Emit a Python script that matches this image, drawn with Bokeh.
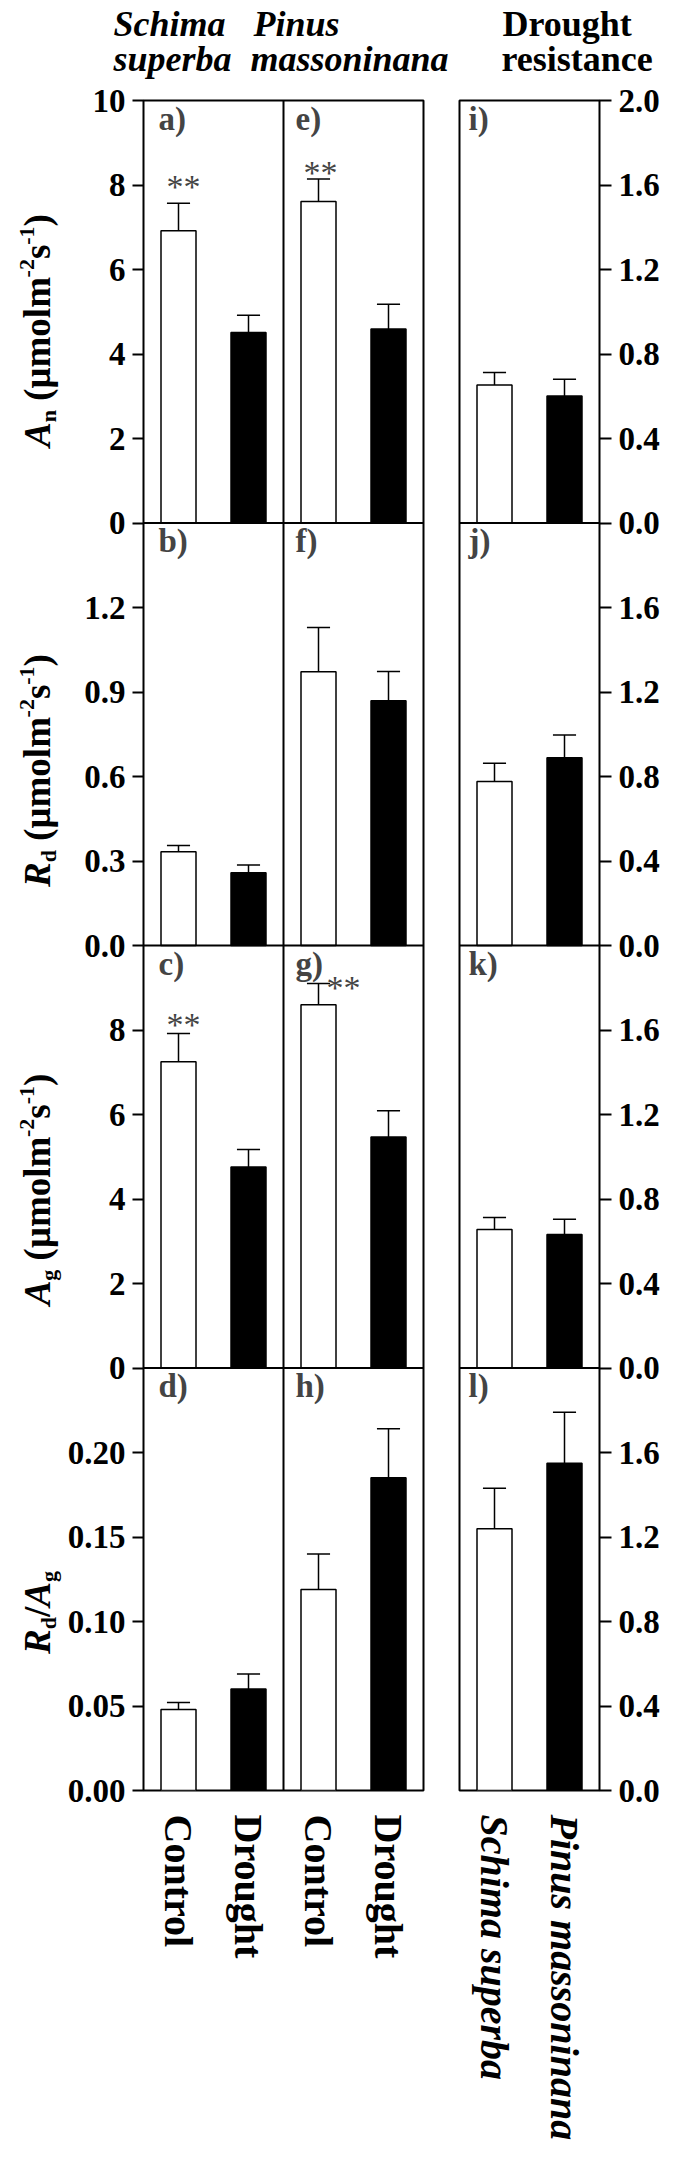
import math
from bokeh.plotting import figure
from bokeh.models import (Range1d, LinearAxis, FixedTicker, Span, Label, ColumnDataSource)
from bokeh.layouts import column, row
from bokeh.embed import file_html
from bokeh.resources import INLINE

FONT = "Liberation Serif"

# ---------------- data ----------------
treatments = ["Control", "Drought", "Control", "Drought"]
species = ["Schima superba", "Pinus massoninana"]
header_words = [["Schima", "superba"], ["Pinus", "massoninana"], ["Drought", "resistance"]]

# order: Schima-Control, Schima-Drought, Pinus-Control, Pinus-Drought
An_mean = [6.92, 4.51, 7.61, 4.59]
An_se = [0.65, 0.41, 0.53, 0.59]
Rd_mean = [0.333, 0.258, 0.972, 0.869]
Rd_se = [0.022, 0.028, 0.157, 0.104]
Ag_mean = [7.25, 4.76, 8.60, 5.47]
Ag_se = [0.67, 0.41, 0.50, 0.62]
RdAg_mean = [0.048, 0.060, 0.119, 0.185]
RdAg_se = [0.004, 0.009, 0.021, 0.029]

# drought resistance: Schima superba, Pinus massoninana
res_An = [0.653, 0.601]
res_An_se = [0.060, 0.079]
res_Rd = [0.776, 0.889]
res_Rd_se = [0.087, 0.107]
res_Ag = [0.656, 0.632]
res_Ag_se = [0.056, 0.072]
res_RdAg = [1.239, 1.549]
res_RdAg_se = [0.192, 0.242]

sig_An = ["**", "", "**", ""]
sig_Rd = ["", "", "", ""]
sig_Ag = ["**", "", "**", ""]
sig_RdAg = ["", "", "", ""]

left_max = [10, 1.5, 10, 0.25]
left_ticks = [[0, 2, 4, 6, 8, 10], [0, 0.3, 0.6, 0.9, 1.2], [0, 2, 4, 6, 8],
              [0, 0.05, 0.10, 0.15, 0.20]]
left_decimals = [0, 1, 0, 2]
right_max = [2.0, 2.0, 2.0, 2.0]
right_ticks = [[0, 0.4, 0.8, 1.2, 1.6, 2.0], [0, 0.4, 0.8, 1.2, 1.6],
               [0, 0.4, 0.8, 1.2, 1.6], [0, 0.4, 0.8, 1.2, 1.6]]
right_decimals = [1, 1, 1, 1]
letters_left = ["a)", "b)", "c)", "d)"]
letters_mid = ["e)", "f)", "g)", "h)"]
letters_right = ["i)", "j)", "k)", "l)"]

ylabel_pieces = [
    [("A", "bold italic", "main"), ("n", "bold", "sub"), (" (μmolm", "bold", "main"),
     ("-2", "bold", "sup"), ("s", "bold", "main"), ("-1", "bold", "sup"), (")", "bold", "main")],
    [("R", "bold italic", "main"), ("d", "bold", "sub"), (" (μmolm", "bold", "main"),
     ("-2", "bold", "sup"), ("s", "bold", "main"), ("-1", "bold", "sup"), (")", "bold", "main")],
    [("A", "bold italic", "main"), ("g", "bold", "sub"), (" (μmolm", "bold", "main"),
     ("-2", "bold", "sup"), ("s", "bold", "main"), ("-1", "bold", "sup"), (")", "bold", "main")],
    [("R", "bold italic", "main"), ("d", "bold", "sub"), ("/", "bold", "main"),
     ("A", "bold italic", "main"), ("g", "bold", "sub")],
]

left_data = [(An_mean, An_se, sig_An), (Rd_mean, Rd_se, sig_Rd),
             (Ag_mean, Ag_se, sig_Ag), (RdAg_mean, RdAg_se, sig_RdAg)]
right_data = [(res_An, res_An_se), (res_Rd, res_Rd_se), (res_Ag, res_Ag_se), (res_RdAg, res_RdAg_se)]

# ---------------- layout constants (page px) ----------------
TOP = 100
BORDER_TOP = 20
FRAME_H = 1690
PANEL_H = FRAME_H / 4
XPU = 70  # px per x unit
YLAB_W = 62
LEFT_W = (143 - YLAB_W) + 4 * XPU + 4
RIGHT_W = 32 + 2 * XPU + 66
TICK_SIZE = "33px"
COLORS = {"Control": "white", "Drought": "black"}
BASE_SHIFT = 0.23  # rendered alphabetic baseline sits this many em below the anchor

star_pos = {(0, 0): (5, 25), (0, 2): (2, 15), (2, 0): (5, 17), (2, 2): (25, 4)}
ylabel_center = [330, 770, 1189, 1612]


def prange(k, M):
    # panel k (0 = top) occupies one quarter of the frame
    return Range1d(-(3 - k) * M, (k + 1) * M)


def rname(k):
    return "p%d" % k


def panel_ticks(maxes, ticks, decimals):
    # ticks of all four stacked panels, on the frame's panel scale (0..4)
    pos, labels = [], {}
    for k in range(4):
        for v in ticks[k]:
            p = (3 - k) + v / maxes[k]
            pos.append(p)
            labels[p] = "%.*f" % (decimals[k], v)
    return pos, labels


def make_fig(n, maxes, bl, br):
    p = figure(frame_width=n * XPU, frame_height=FRAME_H,
               x_range=Range1d(-0.5, n - 0.5), y_range=Range1d(0, 4),
               min_border_left=bl, min_border_right=br, min_border_top=BORDER_TOP,
               min_border_bottom=10, toolbar_location=None, output_backend="svg",
               y_axis_location=None, x_axis_location="below", title=None,
               outline_line_color="black", outline_line_width=2)
    for k in range(4):
        p.extra_y_ranges[rname(k)] = prange(k, maxes[k])
    p.xgrid.grid_line_color = None
    p.ygrid.grid_line_color = None
    for k in range(3):
        p.add_layout(Span(location=0, dimension="width", y_range_name=rname(k),
                          line_color="black", line_width=2))
    return p


def add_yaxis(p, side, maxes, ticks, decimals, tick_len):
    pos, labels = panel_ticks(maxes, ticks, decimals)
    ax = LinearAxis(ticker=FixedTicker(ticks=pos), major_label_overrides=labels,
                    major_tick_out=tick_len, major_tick_in=0, major_tick_line_width=2,
                    minor_tick_line_color=None, axis_line_color=None,
                    major_label_standoff=7, major_label_text_font=FONT,
                    major_label_text_font_size=TICK_SIZE, major_label_text_font_style="bold",
                    major_label_text_color="black")
    p.add_layout(ax, side)


def style_xaxis(p, ticks, labels, fstyle):
    xa = p.xaxis[0]
    xa.ticker = FixedTicker(ticks=ticks)
    xa.major_label_overrides = {i: t for i, t in zip(ticks, labels)}
    xa.major_label_orientation = "vertical"
    xa.major_tick_line_color = None
    xa.minor_tick_line_color = None
    xa.axis_line_color = None
    xa.major_label_standoff = 18
    xa.major_label_text_font = FONT
    xa.major_label_text_font_size = "40px"
    xa.major_label_text_font_style = fstyle
    xa.major_label_text_color = "black"


def bars(p, k, means, ses, colors):
    xs = list(range(len(means)))
    ups = [m + s for m, s in zip(means, ses)]
    src = ColumnDataSource(dict(x=xs, top=means, up=ups, color=colors,
                                cl=[x - 0.165 for x in xs], cr=[x + 0.165 for x in xs]))
    p.vbar(x="x", top="top", bottom=0, width=0.5, fill_color="color", line_color="black",
           line_width=1.5, y_range_name=rname(k), source=src)
    p.segment(x0="x", y0="top", x1="x", y1="up", line_color="black", line_width=1.5,
              y_range_name=rname(k), source=src)
    p.segment(x0="cl", y0="up", x1="cr", y1="up", line_color="black", line_width=1.5,
              y_range_name=rname(k), source=src)


def letter(p, k, M, x, text):
    p.add_layout(Label(x=x, y=M, y_range_name=rname(k), text=text,
                       text_baseline="top", text_align="left", text_font=FONT,
                       text_font_style="bold", text_font_size="33px"))


# ---------------- left block ----------------
left = make_fig(4, left_max, 143 - YLAB_W, 4)
left.add_layout(Span(location=1.5, dimension="height", line_color="black", line_width=2))
add_yaxis(left, "left", left_max, left_ticks, left_decimals, 11)
colors4 = [COLORS[t] for t in treatments]
STAR_SIZE = 34
for k in range(4):
    means, ses, sig = left_data[k]
    M = left_max[k]
    pxu = PANEL_H / M
    bars(left, k, means, ses, colors4)
    for i, s in enumerate(sig):
        if s:
            dx, gap = star_pos[(k, i)]
            # asterisk centre sits ~0.47 em above the baseline
            shift = 0.47 * STAR_SIZE - BASE_SHIFT * STAR_SIZE
            yv = means[i] + ses[i] + (gap - shift) / pxu
            left.add_layout(Label(x=i + dx / XPU, y=yv, y_range_name=rname(k), text=s,
                                  text_align="center", text_baseline="alphabetic",
                                  text_font=FONT, text_font_size="%dpx" % STAR_SIZE))
    letter(left, k, M, -0.5 + 15 / XPU, letters_left[k])
    letter(left, k, M, 1.5 + 12 / XPU, letters_mid[k])
style_xaxis(left, [0, 1, 2, 3], treatments, "bold")

# ---------------- right block ----------------
right = make_fig(2, right_max, 32, 66)
add_yaxis(right, "right", right_max, right_ticks, right_decimals, 12)
colors2 = [COLORS["Control"], COLORS["Drought"]]
for k in range(4):
    means, ses = right_data[k]
    bars(right, k, means, ses, colors2)
    letter(right, k, right_max[k], -0.5 + 9 / XPU, letters_right[k])
style_xaxis(right, [0, 1], species, "bold italic")

# ---------------- y-axis titles (composed, with sub/superscripts) ----------------
ylab = figure(frame_width=YLAB_W, frame_height=FRAME_H, x_range=Range1d(0, YLAB_W),
              y_range=Range1d(TOP + FRAME_H, TOP), min_border_left=0, min_border_right=0,
              min_border_top=BORDER_TOP, min_border_bottom=10, x_axis_location=None,
              y_axis_location=None, toolbar_location=None, outline_line_color=None,
              output_backend="svg", title=None)
ylab.grid.visible = False

WB = {' ': .25, '(': .333, ')': .333, '-': .333, '/': .278, '1': .5, '2': .5, 'μ': .556,
      'm': .833, 'o': .5, 'l': .278, 's': .389, 'n': .556, 'd': .556, 'g': .5}
WBI = {'A': .667, 'R': .667}


def tw(t, style, size):
    tab = WBI if "italic" in style else {}
    return sum(tab.get(c, WB.get(c, .5)) for c in t) * size


MAIN, SMALL = 37, 22
BASE_X = 46
for k, pieces in enumerate(ylabel_pieces):
    sizes = [MAIN if r == "main" else SMALL for _, _, r in pieces]
    total = sum(tw(t, st, sz) for (t, st, _), sz in zip(pieces, sizes))
    ypx = ylabel_center[k] + total / 2
    for (t, st, r), sz in zip(pieces, sizes):
        lead = len(t) - len(t.lstrip())
        ypx -= tw(t[:lead], st, sz)
        tt = t.lstrip()
        xpx = BASE_X + (7 if r == "sub" else (-14 if r == "sup" else 0)) - BASE_SHIFT * sz
        ylab.add_layout(Label(x=xpx, y=ypx, text=tt, angle=math.pi / 2, text_font=FONT,
                              text_font_style=st, text_font_size="%dpx" % sz,
                              text_align="left", text_baseline="alphabetic",
                              text_color="black"))
        ypx -= tw(tt, st, sz)

# ---------------- header ----------------
HEAD_H = TOP - BORDER_TOP
HEAD_W = YLAB_W + LEFT_W + RIGHT_W
HEAD_SIZE = 36
header = figure(width=HEAD_W, height=HEAD_H, x_range=Range1d(0, HEAD_W),
                y_range=Range1d(HEAD_H, 0), min_border=0, x_axis_location=None,
                y_axis_location=None, toolbar_location=None, outline_line_color=None,
                output_backend="svg", title=None)
header.grid.visible = False
hx = [[113, 113], [253, 250], [502, 501]]
hy = [32, 67]
hstyle = ["bold italic", "bold italic", "bold"]
for j, words in enumerate(header_words):
    for w, x, y in zip(words, hx[j], hy):
        header.add_layout(Label(x=x, y=y - BASE_SHIFT * HEAD_SIZE, text=w, text_font=FONT,
                                text_font_style=hstyle[j], text_font_size="%dpx" % HEAD_SIZE,
                                text_align="left", text_baseline="alphabetic",
                                text_color="black"))

layout = column(header, row(ylab, left, right))
open("out.html", "w").write(file_html(layout, INLINE))
